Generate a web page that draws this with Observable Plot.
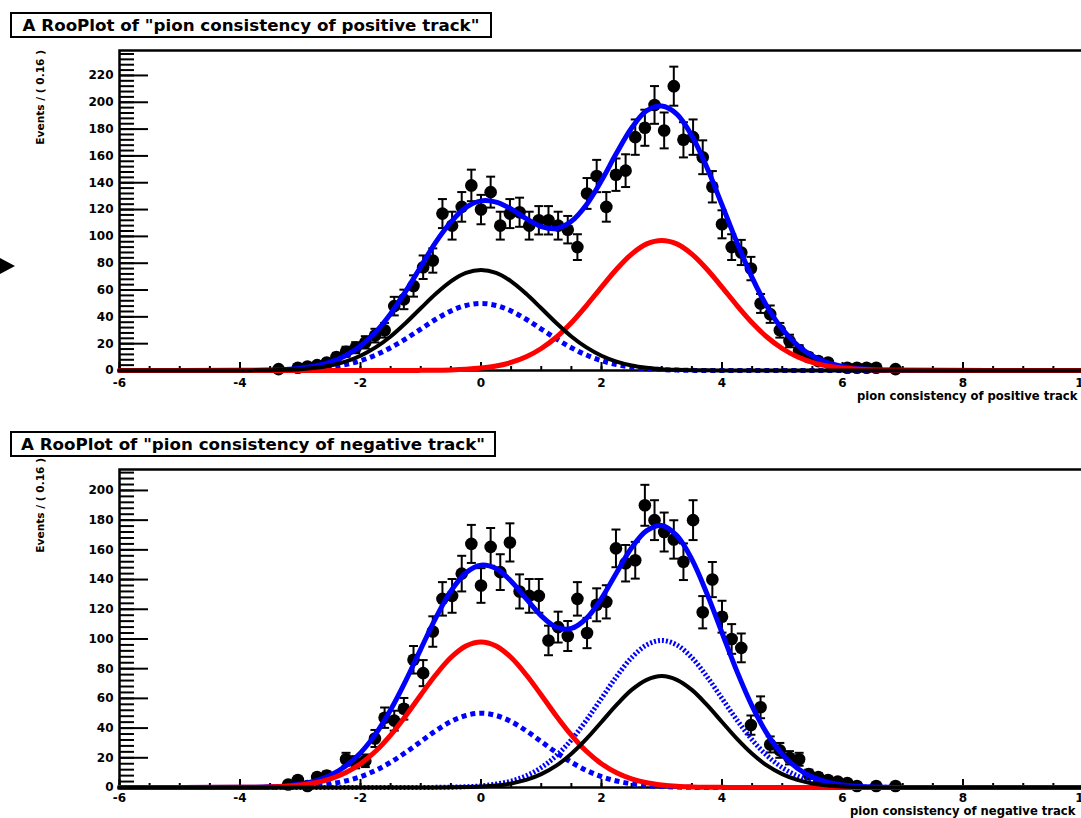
<!DOCTYPE html>
<html><head><meta charset="utf-8">
<script src="https://cdn.jsdelivr.net/npm/d3@7"></script>
<script src="https://cdn.jsdelivr.net/npm/@observablehq/plot@0.6"></script>
<style>
body{margin:0;background:#fff;}
#page{position:relative;width:1081px;height:818px;overflow:hidden;background:#fff;font-family:"DejaVu Sans",sans-serif;font-weight:bold;color:#000;}
.panel{position:absolute;left:0;width:1090px;}
.title{position:absolute;left:10px;height:22px;border:2px solid #000;font-size:16.7px;line-height:22px;white-space:nowrap;text-align:center;}
.xtitle{position:absolute;font-size:11.6px;line-height:14px;white-space:nowrap;}
.ytitle{position:absolute;left:0;top:0;width:150px;text-align:right;font-size:10.6px;line-height:14px;transform-origin:0 0;white-space:nowrap;}
.arrow{position:absolute;left:0;top:258px;width:0;height:0;border-top:8.5px solid transparent;border-bottom:8.5px solid transparent;border-left:15px solid #000;}
</style></head>
<body>
<div id="page">
  <div id="topPanel" class="panel" style="top:0px"></div>
  <div id="botPanel" class="panel" style="top:420px"></div>
  <div class="arrow"></div>
  <div class="title" style="top:12px;width:478px">A RooPlot of "pion consistency of positive track"</div>
  <div class="title" style="top:431px;width:482px">A RooPlot of "pion consistency of negative track"</div>
  <div class="ytitle" style="transform:translate(33px,200px) rotate(-90deg)">Events / ( 0.16 )</div>
  <div class="ytitle" style="transform:translate(33px,608px) rotate(-90deg)">Events / ( 0.16 )</div>
  <div class="xtitle" style="left:857px;top:389px">pion consistency of positive track</div>
  <div class="xtitle" style="left:850px;top:804px">pion consistency of negative track</div>
</div>
<script>
// ---- data points (bin centres, counts) ----
const topBins = [-3.36,-3.04,-2.88,-2.72,-2.56,-2.40,-2.24,-2.08,-1.92,-1.76,-1.60,-1.44,-1.28,-1.12,-0.96,-0.80,-0.64,-0.48,-0.32,-0.16,0,0.16,0.32,0.48,0.64,0.80,0.96,1.12,1.28,1.44,1.60,1.76,1.92,2.08,2.24,2.40,2.56,2.72,2.88,3.04,3.20,3.36,3.52,3.68,3.84,4.00,4.16,4.32,4.48,4.64,4.80,4.96,5.12,5.28,5.44,5.60,5.76,6.08,6.24,6.40,6.56,6.88];
const topCounts = [1,2,3,4,6,10,14,17,21,26,30,48,53,63,77,82,117,108,122,138,120,133,108,117,118,108,112,112,108,105,92,132,145,122,146,149,174,181,198,179,212,172,174,159,137,109,92,88,76,50,42,30,22,15,10,7,6,2,2,2,2,1];
const botBins = [-3.20,-3.04,-2.88,-2.72,-2.56,-2.24,-2.08,-1.92,-1.76,-1.60,-1.44,-1.28,-1.12,-0.96,-0.80,-0.64,-0.48,-0.32,-0.16,0,0.16,0.32,0.48,0.64,0.80,0.96,1.12,1.28,1.44,1.60,1.76,1.92,2.08,2.24,2.40,2.56,2.72,2.88,3.04,3.20,3.36,3.52,3.68,3.84,4.00,4.16,4.32,4.48,4.64,4.80,4.96,5.12,5.28,5.44,5.60,5.76,5.92,6.08,6.24,6.56,6.88];
const botCounts = [2,5,1,7,8,19,17,18,33,47,45,53,86,77,105,127,129,144,164,136,162,145,165,132,129,129,99,108,102,127,104,123,125,161,151,153,190,180,172,167,152,180,118,140,115,100,94,42,54,29,25,20,19,9,7,5,4,3,1,1,1];

// ---- fitted curves ----
const curveX = [-6,-4,-3.75,-3.5,-3.25,-3,-2.75,-2.5,-2.25,-2,-1.75,-1.5,-1.25,-1,-0.75,-0.5,-0.25,0,0.25,0.5,0.75,1,1.25,1.5,1.75,2,2.25,2.5,2.75,3,3.25,3.5,3.75,4,4.25,4.5,4.75,5,5.25,5.5,5.75,6,6.25,6.5,6.75,7,10];
const topTotal  = [0,0.1,0.2,0.4,0.8,1.7,3.3,6.2,11.0,18.3,28.6,42.4,59.0,77.4,95.7,110.6,121.6,126.5,125.6,120.5,113.2,107.3,105.8,111.2,123.6,141.6,162.1,180.8,193.7,197.2,191.2,175.0,151.3,123.5,95.2,69.3,47.6,30.9,18.9,10.9,5.9,3.1,1.5,0.7,0.3,0.1,0];
const topBlack  = [0,0,0.1,0.2,0.5,1.0,2.0,3.7,6.6,11.0,17.2,25.4,35.4,46.4,57.2,66.5,72.8,75,72.8,66.5,57.2,46.4,35.4,25.4,17.2,11.0,6.6,3.7,2.0,1.0,0.5,0.2,0.1,0,0,0,0,0,0,0,0,0,0,0,0,0,0];
const topDashed = [0,0,0,0.1,0.3,0.7,1.3,2.5,4.4,7.3,11.5,17.0,23.6,30.9,38.2,44.4,48.5,50,48.5,44.4,38.2,30.9,23.6,17.0,11.5,7.3,4.4,2.5,1.3,0.7,0.3,0.1,0,0,0,0,0,0,0,0,0,0,0,0,0,0,0];
const topRed    = [0,0,0,0,0,0,0,0,0,0,0,0,0,0.1,0.2,0.4,0.9,1.8,3.3,6.0,10.2,16.4,24.8,35.6,48.4,62.2,75.5,86.8,94.4,97,94.4,86.8,75.5,62.2,48.4,35.6,24.8,16.4,10.2,6.0,3.3,1.8,0.9,0.4,0.2,0.1,0];
const botTotal  = [0,0.1,0.2,0.5,1.1,2.4,4.5,8.3,14.3,23.3,35.9,52.3,71.8,93.2,114.2,132.2,144.6,149.7,147.4,138.9,127.1,115.6,107.9,107.1,113.9,127.4,144.6,161.4,173.0,176.4,169.6,153.6,130.5,104.2,78.0,54.8,36.1,22.4,13.0,7.0,3.6,1.7,0.8,0.3,0.1,0,0];
const botRed    = [0,0.1,0.2,0.4,0.8,1.7,3.2,5.8,9.9,16.0,24.4,35.3,48.2,62.3,75.9,87.5,95.3,98,95.3,87.5,75.9,62.3,48.2,35.3,24.4,16.0,9.9,5.8,3.2,1.7,0.8,0.4,0.2,0.1,0,0,0,0,0,0,0,0,0,0,0,0,0];
const botDashed = [0,0,0,0.1,0.3,0.7,1.3,2.5,4.4,7.3,11.5,17.0,23.6,30.9,38.2,44.4,48.5,50,48.5,44.4,38.2,30.9,23.6,17.0,11.5,7.3,4.4,2.5,1.3,0.7,0.3,0.1,0,0,0,0,0,0,0,0,0,0,0,0,0,0,0];
const botBlack  = [0,0,0,0,0,0,0,0,0,0,0,0,0,0,0,0.1,0.3,0.6,1.3,2.7,5.1,9.0,14.7,22.7,32.7,44.1,55.6,65.7,72.5,75,72.5,65.7,55.6,44.1,32.7,22.7,14.7,9.0,5.1,2.7,1.3,0.6,0.3,0.1,0,0,0];
const botDotted = [0,0,0,0,0,0,0,0,0,0,0,0,0,0,0.1,0.2,0.5,1.1,2.3,4.3,7.9,13.4,21.4,32.1,45.3,60.0,74.7,87.4,96.0,99,96.0,87.4,74.7,60.0,45.3,32.1,21.4,13.4,7.9,4.3,2.3,1.1,0.5,0.2,0.1,0,0];

// ---- axis ticks ----
const xMajor = [-6,-4,-2,0,2,4,6,8,10];
const xMinor = d3.range(-6, 10.001, 0.5);
const topYMajor = [0,20,40,60,80,100,120,140,160,180,200,220];
const topYMinor = d3.range(0, 237, 4);
const botYMajor = [0,20,40,60,80,100,120,140,160,180,200];
const botYMinor = d3.range(0, 213, 4);

const cap = {draw(c) { c.moveTo(-4.5, 0); c.lineTo(4.5, 0); }};

function series(ys) { return curveX.map((x, i) => ({x, y: ys[i]})); }

function panel({bins, counts, yMax, yMajor, yMinor, height, marginTop, marginBottom, xPad, lines}) {
  const pts = bins.map((x, i) => ({x, y: counts[i], e: Math.sqrt(counts[i])}));
  return Plot.plot({
    width: 1090, height, marginLeft: 119, marginRight: 7, marginTop, marginBottom,
    x: {domain: [-6, 10]},
    y: {domain: [0, yMax]},
    style: {fontFamily: "DejaVu Sans", fontWeight: "bold", fontSize: "12px", color: "black", background: "transparent"},
    marks: [
      Plot.frame({stroke: "black", strokeWidth: 2.5}),
      Plot.axisY(yMinor, {tickSize: -15, strokeWidth: 2, fill: "none", label: null}),
      Plot.axisY(yMajor, {tickSize: -29, strokeWidth: 2, fill: "none", label: null}),
      Plot.axisY(yMajor, {tickSize: 0, tickPadding: 6, label: null, tickFormat: d => String(d)}),
      Plot.axisX(xMinor, {tickSize: -4, strokeWidth: 2, fill: "none", label: null}),
      Plot.axisX(xMajor, {tickSize: -8, strokeWidth: 2, fill: "none", label: null}),
      Plot.axisX(xMajor, {tickSize: 0, tickPadding: xPad, label: null, tickFormat: d => String(d)}),
      Plot.ruleX(pts, {x: "x", y1: d => d.y - d.e, y2: d => d.y + d.e, stroke: "black", strokeWidth: 2}),
      Plot.dot(pts, {x: "x", y: d => d.y + d.e, symbol: cap, r: 3, stroke: "black", strokeWidth: 2, fill: "none"}),
      Plot.dot(pts, {x: "x", y: d => d.y - d.e, symbol: cap, r: 3, stroke: "black", strokeWidth: 2, fill: "none"}),
      Plot.dot(pts, {x: "x", y: "y", r: 6.3, fill: "black", stroke: "none"}),
      ...lines.map(l => Plot.line(series(l.ys), {x: "x", y: "y", stroke: l.stroke, strokeWidth: l.w, strokeDasharray: l.dash, strokeLinecap: l.dash ? "butt" : "round", curve: "catmull-rom"}))
    ]
  });
}

document.getElementById("topPanel").append(panel({
  bins: topBins, counts: topCounts, yMax: 238.6, yMajor: topYMajor, yMinor: topYMinor,
  height: 410, marginTop: 50, marginBottom: 40, xPad: 8,
  lines: [
    {ys: topTotal, stroke: "#0000ff", w: 5},
    {ys: topDashed, stroke: "#0000ff", w: 5, dash: "5,4"},
    {ys: topRed, stroke: "#ff0000", w: 5},
    {ys: topBlack, stroke: "#000000", w: 4}
  ]
}));

document.getElementById("botPanel").append(panel({
  bins: botBins, counts: botCounts, yMax: 214.1, yMajor: botYMajor, yMinor: botYMinor,
  height: 398, marginTop: 49, marginBottom: 31, xPad: 6,
  lines: [
    {ys: botTotal, stroke: "#0000ff", w: 5},
    {ys: botDashed, stroke: "#0000ff", w: 5, dash: "5,4"},
    {ys: botDotted, stroke: "#0000ff", w: 5, dash: "2,2"},
    {ys: botRed, stroke: "#ff0000", w: 5},
    {ys: botBlack, stroke: "#000000", w: 4}
  ]
}));
</script>
</body></html>
